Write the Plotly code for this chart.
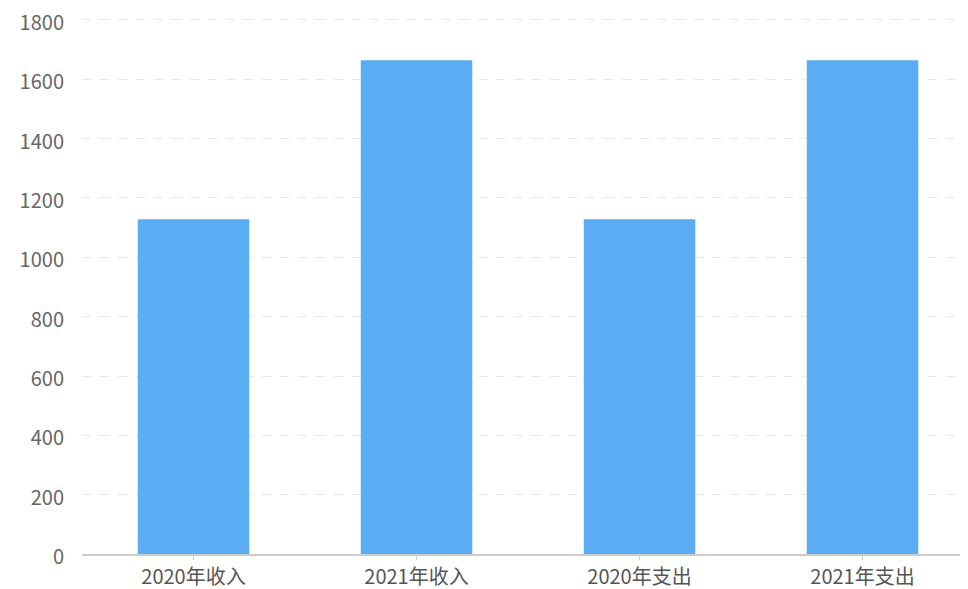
import plotly.graph_objects as go

categories = ["2020年收入", "2021年收入", "2020年支出", "2021年支出"]
values = [1128, 1664, 1128, 1664]
y_ticks = [0, 200, 400, 600, 800, 1000, 1200, 1400, 1600, 1800]

fig = go.Figure(go.Bar(
    x=categories, y=values, width=0.5,
    marker=dict(color="#5AACF3", line=dict(width=0)),
))

fig.update_layout(
    width=960, height=581,
    margin=dict(l=74, r=0, t=10, b=35),
    paper_bgcolor="white", plot_bgcolor="white",
    font=dict(family="Noto Sans CJK SC, Noto Sans, sans-serif", size=21, color="#666666"),
    showlegend=False,
    bargap=0.5,
)
fig.update_xaxes(
    range=[-0.5, 3.473],
    automargin=False,
    showline=True, linecolor="#cccccc", linewidth=1.5,
    ticks="outside", ticklen=4, tickcolor="#cccccc",
    showgrid=False,
    ticklabelstandoff=0,
    tickfont=dict(size=20, color="#555555"),
)
fig.update_yaxes(
    range=[0, 1806.7], tickvals=y_ticks,
    automargin=False,
    showgrid=True, gridcolor="#e6e6e6", griddash="dash", gridwidth=1,
    zeroline=False, showline=False,
    ticklabelstandoff=17,
    ticklabelshift=3,
    ticklabeloverflow="allow",
    tickfont=dict(size=20, color="#666666"),
)

fig.write_html("out.html")
